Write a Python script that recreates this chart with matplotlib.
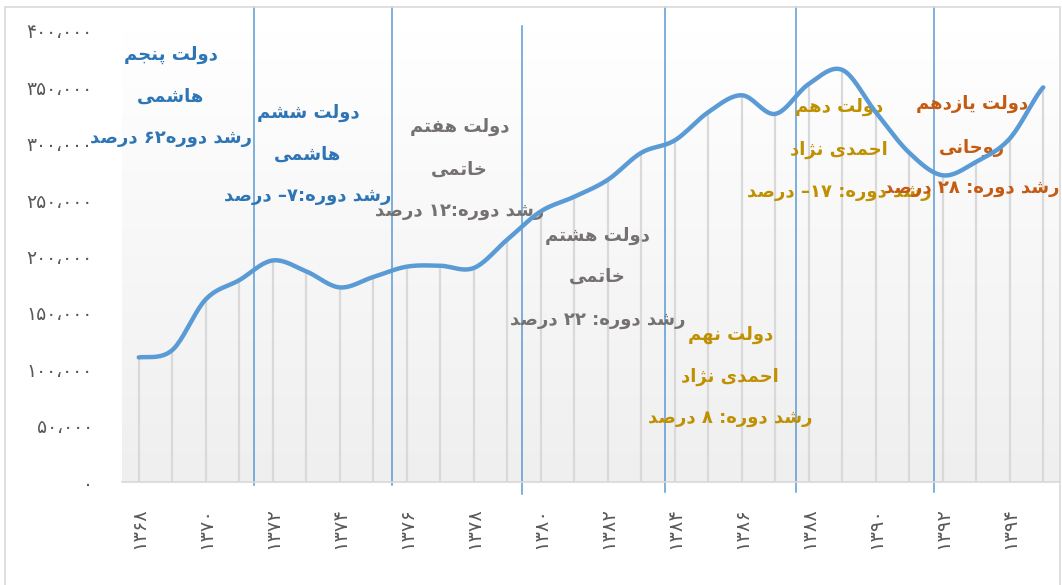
import re
import numpy as np
import matplotlib.pyplot as plt
from matplotlib.colors import LinearSegmentedColormap

# data (Persian calendar years)
years = list(range(1368, 1396))
values = [110500, 117000, 162000, 179000, 196500, 186800, 172600, 181800,
          191000, 191800, 189800, 215000, 240000, 253000, 268000, 292000,
          303000, 328000, 343000, 326500, 353000, 365500, 328000, 292000,
          272000, 284000, 304600, 350000]
tick_years = list(range(1368, 1396, 2))
y_ticks = list(range(0, 400001, 50000))

# government boundaries (years) and the text boxes between them
boundaries = [1371.45, 1375.57, 1379.44, 1383.71, 1387.61, 1391.75]
labels = [
    (["دولت پنجم", "هاشمی", "رشد دوره62 درصد"], "#2e75b6", 1368.95, [378700, 341500, 305100]),
    (["دولت ششم", "هاشمی", "رشد دوره:7– درصد"], "#2e75b6", 1373.05, [327300, 290000, 253700]),
    (["دولت هفتم", "خاتمی", "رشد دوره:12 درصد"], "#767171", 1377.58, [314900, 276700, 240400]),
    (["دولت هشتم", "خاتمی", "رشد دوره: 22 درصد"], "#767171", 1381.7, [218200, 181800, 143700]),
    (["دولت نهم", "احمدی نژاد", "رشد دوره: 8 درصد"], "#bf9000", 1385.66, [130400, 93100, 56800]),
    (["دولت دهم", "احمدی نژاد", "رشد دوره: 17– درصد"], "#bf9000", 1388.9, [332600, 294500, 257200]),
    (["دولت یازدهم", "روحانی", "رشد دوره: 28 درصد"], "#c55a11", 1392.87, [335300, 296200, 260800]),
]

# --- minimal Persian shaping (matplotlib has no Arabic shaping / bidi) ---
FORMS = {
    'ا': (0xFE8D, 0xFE8E, None, None), 'ب': (0xFE8F, 0xFE90, 0xFE91, 0xFE92),
    'پ': (0xFB56, 0xFB57, 0xFB58, 0xFB59), 'ت': (0xFE95, 0xFE96, 0xFE97, 0xFE98),
    'ج': (0xFE9D, 0xFE9E, 0xFE9F, 0xFEA0), 'ح': (0xFEA1, 0xFEA2, 0xFEA3, 0xFEA4),
    'خ': (0xFEA5, 0xFEA6, 0xFEA7, 0xFEA8), 'د': (0xFEA9, 0xFEAA, None, None),
    'ر': (0xFEAD, 0xFEAE, None, None), 'ز': (0xFEAF, 0xFEB0, None, None),
    'ژ': (0xFB8A, 0xFB8B, None, None), 'ش': (0xFEB5, 0xFEB6, 0xFEB7, 0xFEB8),
    'ص': (0xFEB9, 0xFEBA, 0xFEBB, 0xFEBC), 'ف': (0xFED1, 0xFED2, 0xFED3, 0xFED4),
    'ل': (0xFEDD, 0xFEDE, 0xFEDF, 0xFEE0), 'م': (0xFEE1, 0xFEE2, 0xFEE3, 0xFEE4),
    'ن': (0xFEE5, 0xFEE6, 0xFEE7, 0xFEE8), 'ه': (0xFEE9, 0xFEEA, 0xFEEB, 0xFEEC),
    'و': (0xFEED, 0xFEEE, None, None), 'ی': (0xFBFC, 0xFBFD, 0xFBFE, 0xFBFF),
}
FA_DIGITS = str.maketrans('0123456789', '۰۱۲۳۴۵۶۷۸۹')


def shape(text):
    out = []
    for i, c in enumerate(text):
        if c not in FORMS:
            out.append(c)
            continue
        prev = text[i - 1] if i > 0 else ''
        nxt = text[i + 1] if i + 1 < len(text) else ''
        jp = prev in FORMS and FORMS[prev][2] is not None
        jn = nxt in FORMS and FORMS[c][2] is not None
        iso, fin, ini, med = FORMS[c]
        out.append(chr(med if jp and jn else fin if jp else ini if jn else iso))
    return ''.join(out)


def fa(text):
    s = shape(text.translate(FA_DIGITS))
    tokens = re.findall(r'[۰-۹]+|.', s)
    return ''.join(reversed(tokens))


def fa_num(v, sep=True):
    s = f"{v:,}".replace(',', '،') if sep else str(v)
    return s.translate(FA_DIGITS)


def smooth(x, y, n=20):
    # Catmull-Rom curve through the points, like a spreadsheet "smoothed line"
    x = np.asarray(x, float)
    y = np.asarray(y, float)
    px = np.concatenate([[x[0] - (x[1] - x[0]) * 0.5], x, [x[-1] + (x[-1] - x[-2]) * 0.5]])
    py = np.concatenate([[y[0]], y, [y[-1]]])
    t = np.linspace(0, 1, n, endpoint=False)
    xs, ys = [], []
    for i in range(1, len(px) - 2):
        for p, out in ((px, xs), (py, ys)):
            p0, p1, p2, p3 = p[i - 1], p[i], p[i + 1], p[i + 2]
            out.extend(0.5 * (2 * p1 + (-p0 + p2) * t + (2 * p0 - 5 * p1 + 4 * p2 - p3) * t ** 2
                              + (-p0 + 3 * p1 - 3 * p2 + p3) * t ** 3))
    xs.append(x[-1])
    ys.append(y[-1])
    return np.array(xs), np.array(ys)


fig = plt.figure(figsize=(10.62, 5.85), dpi=100)
fig.patches.append(plt.Rectangle((5 / 1062, -0.05), 1055 / 1062, 1.05 - 7 / 585,
                                 transform=fig.transFigure, fill=False,
                                 edgecolor='#d9d9d9', linewidth=1.2))
ax = fig.add_axes([122 / 1062, 1 - 482 / 585, 938 / 1062, 451 / 585])
ax.set_xlim(1367.5, 1395.5)
ax.set_ylim(0, 400000)

# gradient plot area
grad = np.linspace(0, 1, 256).reshape(-1, 1)
ax.imshow(grad, extent=[1367.5, 1395.5, 0, 400000], aspect='auto', origin='upper',
          cmap=LinearSegmentedColormap.from_list('g', ['#ffffff', '#efefef']), zorder=0)

# drop lines
ax.vlines(years, 0, values, color='#d9d9d9', linewidth=1.6, zorder=1)

# boundaries
tops = [421000, 421000, 404000, 421000, 421000, 421000]
bottoms = [-3000, -3000, -11000, -9000, -9000, -9000]
for b, t, bt in zip(boundaries, tops, bottoms):
    ax.plot([b, b], [bt, t], color='#5b9bd5', linewidth=1.1, clip_on=False, zorder=2)

sx, sy = smooth(years, values)
ax.plot(sx, sy, color='#5b9bd5', linewidth=3.2, solid_capstyle='round', zorder=4)

for lines, color, xc, ys in labels:
    for s, yy in zip(lines, ys):
        ax.text(xc, yy, fa(s), color=color, fontsize=13, fontweight='bold',
                family='DejaVu Sans', ha='center', va='center', zorder=3)

ax.set_xticks(tick_years)
ax.set_xticklabels([fa_num(v, sep=False) for v in tick_years], rotation=90, fontsize=14,
                   color='#595959')
ax.set_yticks(y_ticks)
ax.set_yticklabels([fa_num(v) for v in y_ticks], fontsize=13.5, color='#595959')
ax.tick_params(axis='both', length=0)
ax.tick_params(axis='x', pad=18)
ax.tick_params(axis='y', pad=21)
for side in ['top', 'right', 'left']:
    ax.spines[side].set_visible(False)
ax.spines['bottom'].set_color('#d9d9d9')
ax.spines['bottom'].set_linewidth(1.2)

fig.savefig('out.png', dpi=100)
